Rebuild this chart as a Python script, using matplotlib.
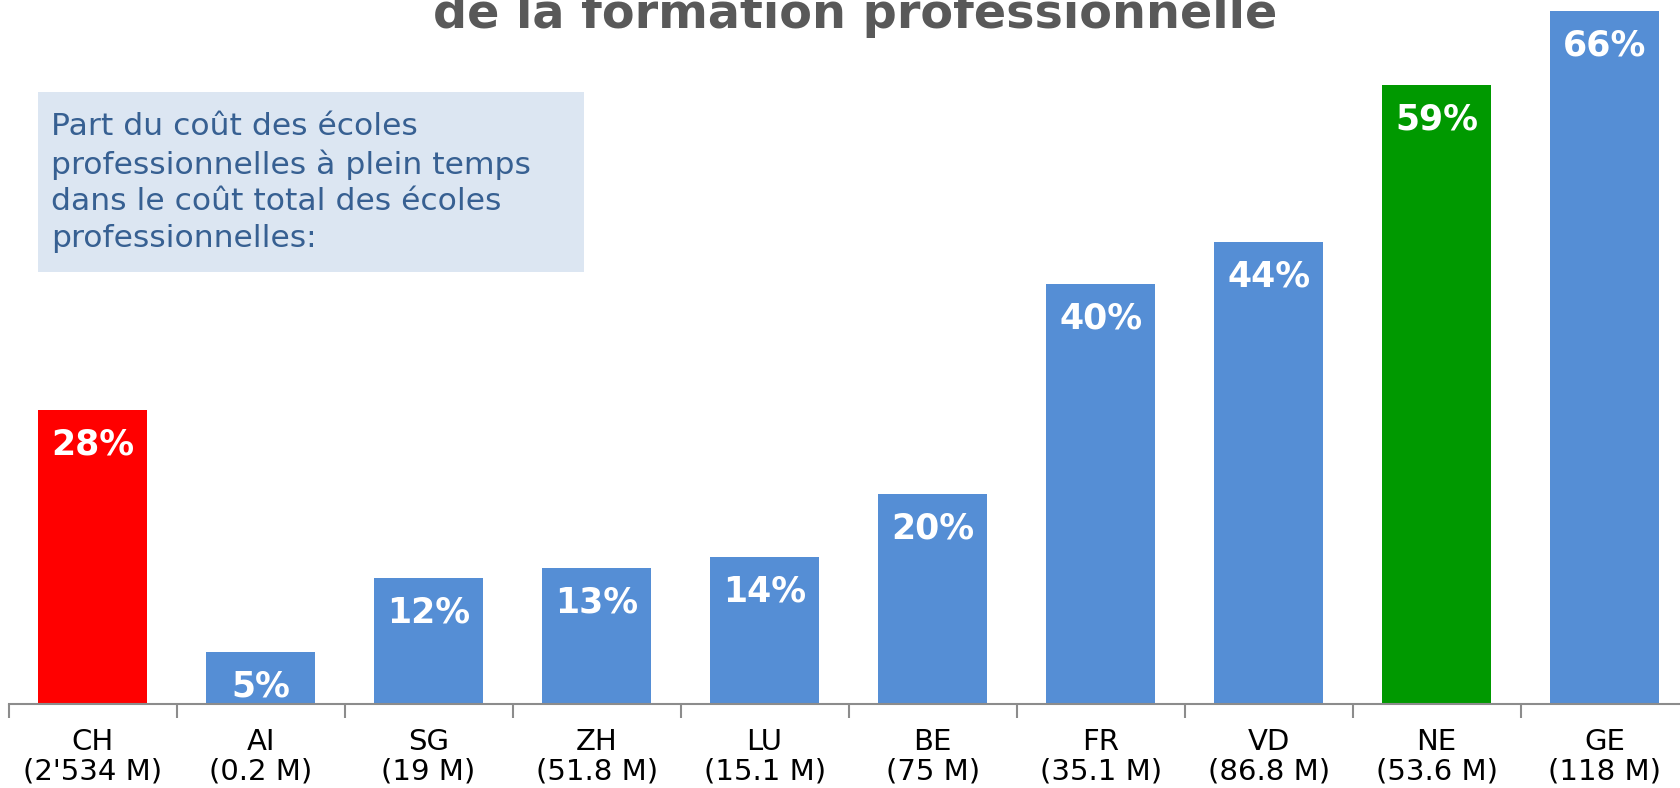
import numpy as np
import matplotlib.pyplot as plt

# données
cantons = ['CH', 'AI', 'SG', 'ZH', 'LU', 'BE', 'FR', 'VD', 'NE', 'GE']
couts = ["2'534 M", "0.2 M", "19 M", "51.8 M", "15.1 M", "75 M", "35.1 M", "86.8 M", "53.6 M", "118 M"]
parts = [28, 5, 12, 13, 14, 20, 40, 44, 59, 66]
couleurs = ['#FF0000'] + ['#558ED5'] * 7 + ['#009900', '#558ED5']

fig = plt.figure(figsize=(16.8, 7.88), dpi=100)
ax = fig.add_axes([8.6 / 1680, 84 / 788, 1.0, 704 / 788])

x = np.arange(len(cantons))
bars = ax.bar(x, parts, width=0.645, color=couleurs)

for xi, v in zip(x, parts):
    ax.text(xi, v - 3.3, f'{v}%', ha='center', va='center', color='white',
            fontsize=25, fontweight='bold')

ax.set_xlim(-0.5, 9.5)
ax.set_ylim(0, 67.05)
ax.set_yticks([])
for s in ['left', 'right', 'top']:
    ax.spines[s].set_visible(False)
ax.spines['bottom'].set_color('#8c8c8c')
ax.spines['bottom'].set_linewidth(1.5)

ax.set_xticks(x)
ax.set_xticklabels([f'{c}\n({m})' for c, m in zip(cantons, couts)],
                   fontsize=21, color='black', linespacing=1.1)
ax.tick_params(axis='x', which='major', length=0, pad=17)
ax.set_xticks(np.arange(-0.5, 10, 1), minor=True)
ax.tick_params(axis='x', which='minor', length=10, width=1.5, color='#8c8c8c')

# encadré
fig.patches.append(plt.Rectangle((37.5 / 1680, 1 - 272 / 788), 546 / 1680, 180 / 788,
                                 transform=fig.transFigure, facecolor='#DCE6F2',
                                 edgecolor='none', zorder=0))
fig.text(51 / 1680, 1 - 112 / 788,
         "Part du coût des écoles\nprofessionnelles à plein temps\ndans le coût total des écoles\nprofessionnelles:",
         ha='left', va='top', fontsize=22.6, color='#376092', linespacing=1.33)

# titre (coupé en haut)
fig.text(855 / 1680, 1 - 28 / 788, 'de la formation professionnelle',
         ha='center', va='baseline', fontsize=34.4, fontweight='bold', color='#595959')

fig.savefig('out.png', dpi=100)
